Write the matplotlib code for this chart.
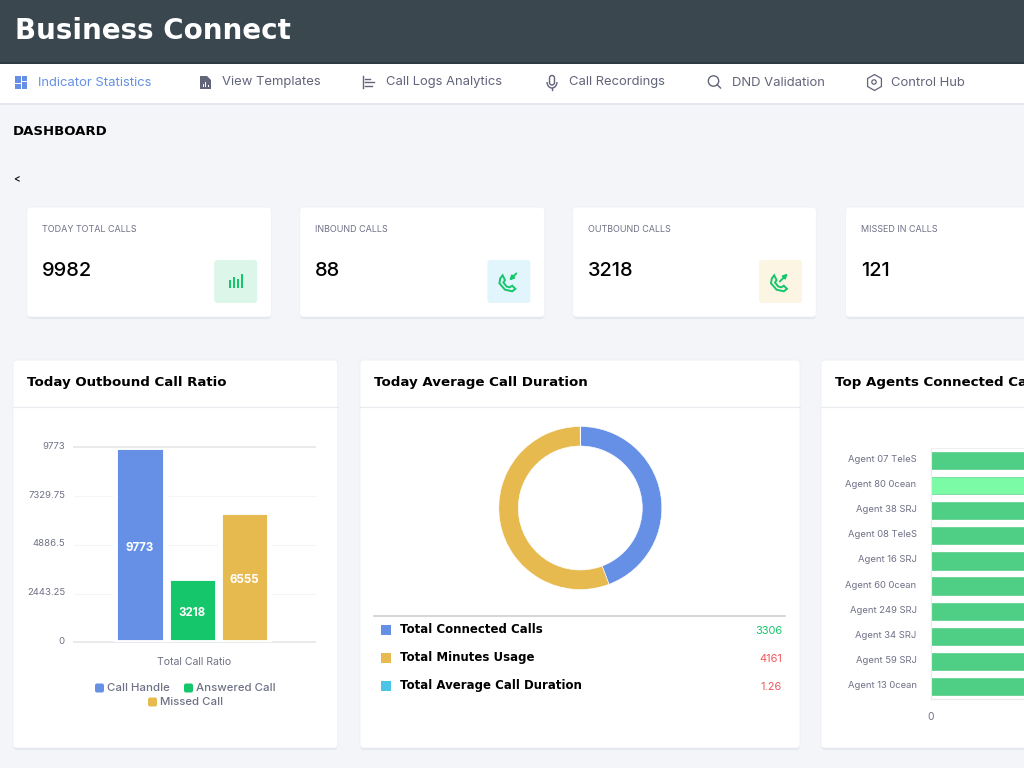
#!/usr/bin/env python3

import matplotlib
from matplotlib import pyplot as plt
from matplotlib.patches import FancyBboxPatch, Rectangle, Circle, Arc, Polygon
from matplotlib.transforms import ScaledTranslation

matplotlib.use('Agg')

W, H = 1024, 768
HEADING_FONT = ['DejaVu Sans']
BODY_FONT = ['Inter', 'DejaVu Sans']

BLUE = '#6590e6'
GREEN = '#15c66b'
YELLOW = '#e7ba50'
CYAN = '#4cc4e6'
BG = '#f3f5f9'
GREY_TEXT = '#6f7186'
NAV_TEXT = '#62647a'

nav_labels = ['Indicator Statistics', 'View Templates', 'Call Logs Analytics',
              'Call Recordings', 'DND Validation', 'Control Hub']
kpi_labels = ['TODAY TOTAL CALLS', 'INBOUND CALLS', 'OUTBOUND CALLS', 'MISSED IN CALLS']
kpi_values = ['9982', '88', '3218', '121']

bar_labels = ['Call Handle', 'Answered Call', 'Missed Call']
bar_values = [9773, 3218, 6555]
bar_ticks = [0, 2443.25, 4886.5, 7329.75, 9773]
bar_tick_labels = ['0', '2443.25', '4886.5', '7329.75', '9773']

donut_labels = ['Total Connected Calls', 'Total Minutes Usage', 'Total Average Call Duration']
donut_values = [3306, 4161, 1.26]
donut_value_labels = ['3306', '4161', '1.26']

agent_names = ['Agent 07 TeleS', 'Agent 80 0cean', 'Agent 38 SRJ', 'Agent 08 TeleS',
               'Agent 16 SRJ', 'Agent 60 0cean', 'Agent 249 SRJ', 'Agent 34 SRJ',
               'Agent 59 SRJ', 'Agent 13 0cean']
# the bars run off the right edge, so these are only rough
agent_calls = [140, 135, 130, 128, 125, 122, 120, 118, 115, 112]


def px_axes(x0, y0, x1, y1):
    return fig.add_axes([x0 / W, 1 - y1 / H, (x1 - x0) / W, (y1 - y0) / H])


def card(x0, y0, x1, y1):
    ui.add_patch(FancyBboxPatch((x0 + 0.5, y0 + 2), x1 - x0 - 1, y1 - y0,
                                boxstyle='round,pad=0,rounding_size=4',
                                fc='#e3e7ee', ec='none', zorder=1))
    ui.add_patch(FancyBboxPatch((x0, y0), x1 - x0, y1 - y0,
                                boxstyle='round,pad=0,rounding_size=4',
                                fc='white', ec='#eef0f5', lw=0.6, zorder=2))


def text(x, y, s, size, color, font=BODY_FONT, weight='normal', ha='left'):
    ui.text(x, y + 1, s, fontsize=size * 0.72, color=color, family=font, fontweight=weight,
            ha=ha, va='center', zorder=5)


def phone(cx, cy, color, outgoing):
    # handset outline plus the little arrow
    shape = [(-10, -5), (-7, -9), (-4, -3), (-6, 0), (-2, 5), (2, 6), (5, 4), (9, 8),
             (5, 11), (-4, 9), (-11, 1), (-10, -5)]
    verts = [(cx - 1 + 0.8 * a, cy + 1 + 0.8 * b) for a, b in shape]
    ui.add_patch(Polygon(verts, closed=True, fc='none', ec=color, lw=1.4, zorder=5))
    if outgoing:
        start, end = (cx - 1, cy), (cx + 7, cy - 8)
    else:
        start, end = (cx + 7, cy - 8), (cx, cy - 1)
    ui.annotate('', xy=end, xytext=start, zorder=5,
                arrowprops=dict(arrowstyle='-|>', color=color, lw=1.4, mutation_scale=6,
                                shrinkA=0, shrinkB=0))


def nav_icon(i, x, y, color):
    if i == 0:
        for dx, dy, w, h in [(0, 0, 5.5, 7), (6.5, 0, 5.5, 4.5), (0, 8, 5.5, 4.5), (6.5, 5.5, 5.5, 7)]:
            ui.add_patch(Rectangle((x + dx, y - 6 + dy), w, h, fc=color, ec='none', zorder=5))
    elif i == 1:
        ui.add_patch(Polygon([(x, y - 6), (x + 7, y - 6), (x + 11, y - 2), (x + 11, y + 7), (x, y + 7)],
                             fc=color, ec='none', zorder=5))
        for dx, h in [(2.5, 3), (5, 5), (7.5, 2)]:
            ui.add_patch(Rectangle((x + dx, y + 5 - h), 1.2, h, fc='white', ec='none', zorder=6))
    elif i == 2:
        ui.plot([x, x], [y - 6, y + 6], color=color, lw=1.0, zorder=5)
        for dy, w in [(-3.5, 5), (0, 9), (3.5, 7)]:
            ui.plot([x + 2, x + 2 + w], [y + dy, y + dy], color=color, lw=1.0, zorder=5)
    elif i == 3:
        ui.add_patch(FancyBboxPatch((x + 2.5, y - 6.5), 5, 9.5, boxstyle='round,pad=0,rounding_size=2.5',
                                    fc='none', ec=color, lw=1.0, zorder=5))
        ui.add_patch(Arc((x + 5, y), 10, 12, theta1=0, theta2=180, ec=color, lw=1.0, zorder=5))
        ui.plot([x + 5, x + 5], [y + 6, y + 8], color=color, lw=1.0, zorder=5)
    elif i == 4:
        ui.add_patch(Circle((x + 5.5, y - 1), 5.2, fc='none', ec=color, lw=1.0, zorder=5))
        ui.plot([x + 9, x + 12.5], [y + 2.5, y + 6], color=color, lw=1.0, zorder=5)
    else:
        ui.plot(x + 6, y, marker='h', ms=11.5, mfc='none', mec=color, mew=0.9, zorder=5)
        ui.add_patch(Circle((x + 6, y), 2.2, fc='none', ec=color, lw=0.9, zorder=6))


def nudge_up(labels, px):
    shift = ScaledTranslation(0, px * 0.72 / 72, fig.dpi_scale_trans)
    for label in labels:
        label.set_transform(label.get_transform() + shift)


fig = plt.figure(figsize=(W / 100, H / 100), dpi=100, facecolor=BG)

# whole canvas in pixels, y pointing down
ui = fig.add_axes([0, 0, 1, 1])
ui.set_xlim(0, W)
ui.set_ylim(H, 0)
ui.axis('off')

# header and nav
ui.add_patch(Rectangle((0, 0), W, 62, fc='#3a474e', ec='none', zorder=1))
ui.add_patch(Rectangle((0, 62), W, 2, fc='#2f3a40', ec='none', zorder=2))
ui.add_patch(Rectangle((0, 64), W, 41, fc='#e4e7ee', ec='none', zorder=1))
ui.add_patch(Rectangle((0, 64), W, 39, fc='white', ec='none', zorder=2))
text(15, 30, 'Business Connect', 27.8, 'white', font=HEADING_FONT, weight='bold')

nav_text_x = [38, 222, 386, 569, 732, 891]
nav_icon_x = [15, 200, 363, 547, 708, 868]
for i, label in enumerate(nav_labels):
    color = BLUE if i == 0 else NAV_TEXT
    text(nav_text_x[i], 81.5, label, 13, color)
    nav_icon(i, nav_icon_x[i], 82, color)

text(13, 130.5, 'DASHBOARD', 13.3, 'black', font=HEADING_FONT, weight='bold')
text(13, 177, '<', 10, 'black', weight='medium')

# KPI cards
kpi_x = [(26.7, 271.5), (299.7, 544.7), (572.7, 816.3), (845.5, 1040)]
tile_colors = ['#dcf6e9', '#e3f5fc', '#fdf5e4']
for i, (x0, x1) in enumerate(kpi_x):
    card(x0, 207, x1, 317)
    text(x0 + 15.3, 228, kpi_labels[i], 9, GREY_TEXT)
    text(x0 + 15.3, 270.5, kpi_values[i], 20, 'black', weight='medium')
    if i < 3:
        ui.add_patch(FancyBboxPatch((x1 - 57.3, 260), 43, 43, boxstyle='round,pad=0,rounding_size=3',
                                    fc=tile_colors[i], ec='none', zorder=3))
        cx, cy = x1 - 35.5, 281.5
        if i == 0:
            for dx, h in [(-6, 8), (-2, 11), (2, 9), (6, 14)]:
                ui.add_patch(Rectangle((cx + dx - 1, 288 - h), 2.1, h, fc=GREEN, ec='none', zorder=5))
        else:
            phone(cx, cy, GREEN, outgoing=i == 2)

# chart cards
chart_cards = [(13, 337.7), (360, 800), (821, 1040)]
chart_titles = ['Today Outbound Call Ratio', 'Today Average Call Duration', 'Top Agents Connected Calls']
for (x0, x1), title in zip(chart_cards, chart_titles):
    card(x0, 360, x1, 748)
    ui.plot([x0, x1], [406.5, 406.5], color='#e8eaef', lw=0.8, zorder=3)
    text(x0 + 14, 381.5, title, 13.35, 'black', font=HEADING_FONT, weight='bold')

# grouped bars
ax = px_axes(74, 447.5, 314.7, 642.3)
ax.patch.set_alpha(0)
ax.set_zorder(2)
colors = [BLUE, GREEN, YELLOW]
for tick in bar_ticks:
    lw, col = (1.4, '#e9eaec') if tick in (0, 9773) else (0.8, '#f4f5f6')
    ax.axhline(tick, color=col, lw=lw, zorder=1, clip_on=False)
positions = range(len(bar_values))
ax.bar(positions, bar_values, width=0.94, color=colors, edgecolor='white', linewidth=3.5, zorder=2)
for pos, value in zip(positions, bar_values):
    ax.annotate(str(value), (pos, value / 2), xytext=(0, -2.2), textcoords='offset points',
                color='white', fontsize=8.3, fontweight='bold', family=BODY_FONT,
                ha='center', va='center', zorder=3)
ax.set_xlim(-1.264, 3.347)
ax.set_ylim(0, 9773)
ax.set_yticks(bar_ticks, bar_tick_labels)
ax.set_xticks([])
ax.tick_params(axis='y', length=0, pad=6.5, labelsize=6.9, labelcolor=GREY_TEXT)
for label in ax.get_yticklabels():
    label.set_family(BODY_FONT)
nudge_up(ax.get_yticklabels(), 2)
for spine in ax.spines.values():
    spine.set_visible(False)

text(194, 661, 'Total Call Ratio', 10.5, GREY_TEXT, ha='center')
legend_pos = [(95, 687), (184, 687), (148, 701)]
for (x, y), label, col in zip(legend_pos, bar_labels, colors):
    ui.add_patch(FancyBboxPatch((x, y - 3.5), 9, 9, boxstyle='round,pad=0,rounding_size=2',
                                fc=col, ec='none', zorder=5))
    text(x + 12, y, label, 11.4, GREY_TEXT, weight='medium')

# donut
dx = px_axes(580.3 - 81.5, 508 - 81.5, 580.3 + 81.5, 508 + 81.5)
dx.pie(donut_values, colors=[BLUE, YELLOW, CYAN], startangle=90, counterclock=False, radius=1,
       wedgeprops=dict(width=19.5 / 81.5, edgecolor='white', linewidth=0.4))
dx.set_xlim(-1, 1)
dx.set_ylim(-1, 1)

ui.plot([373.5, 785], [616, 616], color='#d2d3d6', lw=1.3, zorder=3)
row_y = [629.5, 657.5, 685.5]
row_colors = [GREEN, '#f0575b', '#f0575b']
for y, label, value, col, box in zip(row_y, donut_labels, donut_value_labels, row_colors,
                                     [BLUE, YELLOW, CYAN]):
    ui.add_patch(Rectangle((380.5, y - 4.5), 10, 10, fc=box, ec='none', zorder=5))
    text(400.5, y - 1, label, 11.8, 'black', font=HEADING_FONT, weight='bold')
    text(782, y, value, 11, col, ha='right')

# agents, axes runs past the canvas on purpose
hx = px_axes(931, 447.7, 1180, 699.3)
hx.patch.set_alpha(0)
hx.set_zorder(2)
hx.barh(range(len(agent_names)), agent_calls, height=0.69,
        color=['#7cfba6' if i == 1 else '#4fcf85' for i in range(len(agent_names))],
        edgecolor='#45c97c', linewidth=0.4, zorder=2)
hx.set_ylim(len(agent_names) - 0.5, -0.5)
hx.set_xlim(0, 140)
hx.set_yticks(range(len(agent_names)), agent_names)
hx.set_xticks([0], ['0'])
hx.tick_params(axis='y', length=0, pad=10.4, labelsize=6.8, labelcolor=GREY_TEXT)
hx.tick_params(axis='x', length=0, pad=9.5, labelsize=7.4, labelcolor=GREY_TEXT)
for label in hx.get_yticklabels() + hx.get_xticklabels():
    label.set_family(BODY_FONT)
nudge_up(hx.get_yticklabels(), 2)
hx.spines['top'].set_color('#eeeff2')
hx.spines['bottom'].set_color('#e8e9ec')
hx.spines['left'].set_color('#e8e9ec')
hx.spines['right'].set_visible(False)

fig.savefig('out.png', dpi=100)
